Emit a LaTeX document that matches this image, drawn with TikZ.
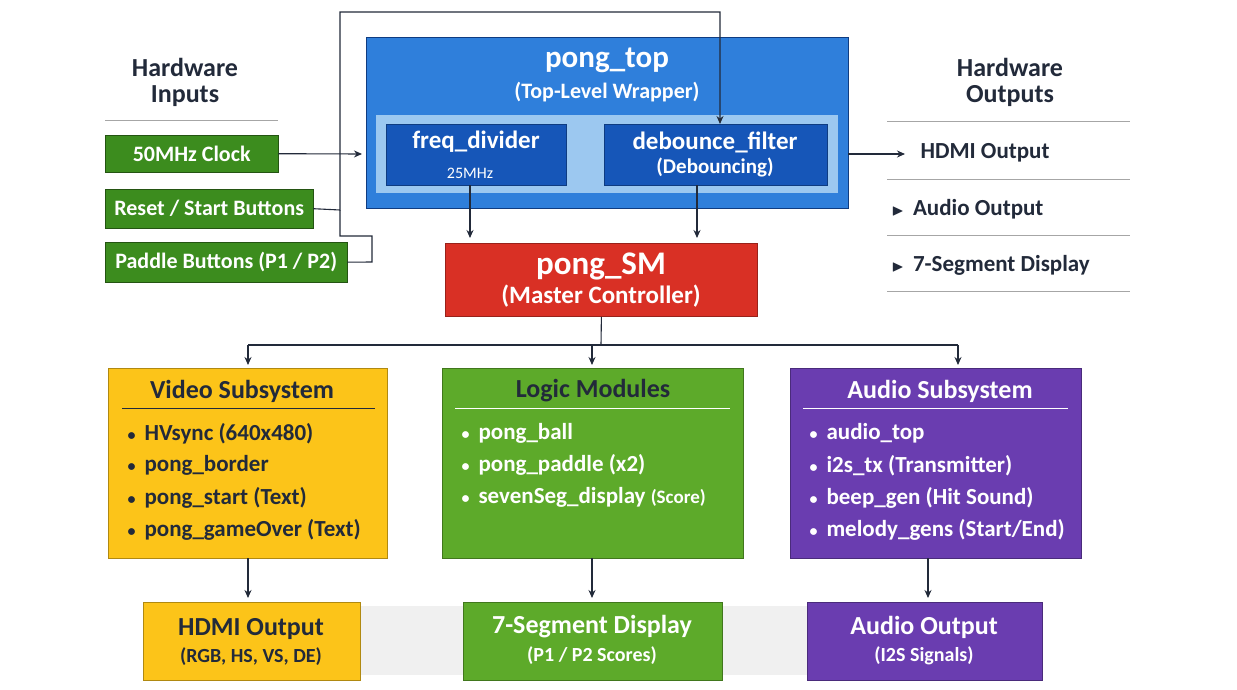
\documentclass[tikz,border=0pt]{standalone}
\usepackage{amssymb}
\usepackage{fontspec}
\setmainfont{Carlito}
\usetikzlibrary{arrows.meta}
\definecolor{blueA}{HTML}{2F7FDB}
\definecolor{blueB}{HTML}{1656B8}
\definecolor{blueL}{HTML}{9CC8F0}
\definecolor{grn}{HTML}{3C8C1E}
\definecolor{grnL}{HTML}{5DAA2A}
\definecolor{redA}{HTML}{D93025}
\definecolor{yel}{HTML}{FCC419}
\definecolor{pur}{HTML}{6A3DB0}
\definecolor{txt}{HTML}{222A3A}
\begin{document}
\begin{tikzpicture}[x=1pt,y=-1pt,
  box/.style={draw=#1!70!black,line width=0.8pt,anchor=north west,inner sep=0pt},
  inbtn/.style={fill=grn,draw=grn!60!black,anchor=north west,inner sep=0pt,text=white,font=\bfseries\fontsize{22}{24}\selectfont},
  ar/.style={-{Stealth[length=8pt,width=7pt]},line width=1.1pt,color=txt},
  ln/.style={line width=1.1pt,color=txt},
  hdr/.style={font=\bfseries\fontsize{26}{24}\selectfont,text=txt,align=center},
  bul/.style={anchor=west,font=\bfseries\fontsize{23}{24}\selectfont},
  sep/.style={line width=0.8pt,color=gray!70}]
\useasboundingbox (0,0) rectangle (1237,690);
\fill[white] (0,0) rectangle (1237,690);
% headers
\node[hdr] (hin) at (185,82) {Hardware\\[2pt]Inputs};
\draw[sep] (105,120) -- (278,120);
\node[hdr] (hout) at (1010,82) {Hardware\\[2pt]Outputs};
\foreach \y in {121,179,235,291} \draw[sep] (887,\y) -- (1130,\y);
% inputs
\node[inbtn,minimum width=173pt,minimum height=37pt] (clk) at (105,135) {50MHz Clock};
\node[inbtn,minimum width=208pt,minimum height=39pt] (rst) at (105,189) {Reset / Start Buttons};
\node[inbtn,minimum width=242pt,minimum height=40pt] (pad) at (105,242) {Paddle Buttons (P1 / P2)};
% pong_top
\node[box=blueB,fill=blueA,minimum width=482pt,minimum height=171pt] (top) at (366,37) {};
\node[text=white,font=\bfseries\fontsize{31}{32}\selectfont] (toptitle) at (607,60) {pong\_top};
\node[text=white,font=\bfseries\fontsize{22}{24}\selectfont] (topsub) at (607,92) {(Top-Level Wrapper)};
\node[fill=blueL,anchor=north west,minimum width=462pt,minimum height=78pt,inner sep=0pt] (band) at (376,115) {};
\node[box=blueB,fill=blueB,minimum width=180pt,minimum height=61pt] (fd) at (386,124) {};
\node[text=white,font=\bfseries\fontsize{25}{26}\selectfont] at (476,142) {freq\_divider};
\node[text=white,font=\fontsize{16}{17}\selectfont] at (470,173) {25MHz};
\node[box=blueB,fill=blueB,minimum width=223pt,minimum height=61pt] (db) at (604,124) {};
\node[text=white,font=\bfseries\fontsize{25}{26}\selectfont] at (715,142) {debounce\_filter};
\node[text=white,font=\bfseries\fontsize{21}{22}\selectfont] at (715,167) {(Debouncing)};
% pong_SM
\node[box=redA,fill=redA,minimum width=312pt,minimum height=73pt] (sm) at (445,243) {};
\node[text=white,font=\bfseries\fontsize{33}{34}\selectfont] at (601,266) {pong\_SM};
\node[text=white,font=\bfseries\fontsize{25}{26}\selectfont] at (601,296) {(Master Controller)};
% input connectors
\draw[ar] (clk.east) -- (362,154);
\draw[ar] (rst.east) -- (340,210) -- (340,12) -- (720,12) -- (720,124);
\draw[ln] (pad.east) -- (372,262) -- (372,236) -- (340,236) -- (340,210);
\draw[ar] (470,185) -- (470,238);
\draw[ar] (697,185) -- (697,238);
% outputs list
\draw[ar] (848,154) -- (905,154);
\node[bul,text=txt] (o1) at (917,153) {HDMI Output};
\node[bul,text=txt] (o2) at (888,209) {{\fontsize{16}{16}\selectfont$\blacktriangleright$}\ \,Audio Output};
\node[bul,text=txt] (o3) at (888,265) {{\fontsize{16}{16}\selectfont$\blacktriangleright$}\ \,7-Segment Display};
% subsystem boxes
\node[box=yel,fill=yel,minimum width=279pt,minimum height=190pt] (vid) at (108,368) {};
\node[box=grnL,fill=grnL,minimum width=301pt,minimum height=190pt] (log) at (442,368) {};
\node[box=pur,fill=pur,minimum width=291pt,minimum height=190pt] (aud) at (790,368) {};
\node[font=\bfseries\fontsize{26}{28}\selectfont,text=txt] at (242,391) {Video Subsystem};
\draw[line width=0.8pt,txt] (122,408) -- (375,408);
\node[font=\bfseries\fontsize{26}{28}\selectfont,text=txt] at (593,391) {Logic Modules};
\draw[line width=0.8pt,white] (455,408) -- (730,408);
\node[font=\bfseries\fontsize{26}{28}\selectfont,text=white] at (940,391) {Audio Subsystem};
\draw[line width=0.8pt,white] (803,408) -- (1068,408);
\foreach \t [count=\i] in {HVsync (640x480),pong\_border,pong\_start (Text),pong\_gameOver (Text)}
  \node[bul,text=txt] at (124,401+32.3*\i) {{\fontsize{16}{16}\selectfont•}\, \t};
\node[bul,text=white] at (458,433) {{\fontsize{16}{16}\selectfont•}\, pong\_ball};
\node[bul,text=white] at (458,465) {{\fontsize{16}{16}\selectfont•}\, pong\_paddle (x2)};
\node[bul,text=white] at (458,497) {{\fontsize{16}{16}\selectfont•}\, sevenSeg\_display {\fontsize{19}{20}\selectfont(Score)}};
\foreach \t [count=\i] in {audio\_top,i2s\_tx (Transmitter),beep\_gen (Hit Sound),melody\_gens (Start/End)}
  \node[bul,text=white] at (806,401+32.3*\i) {{\fontsize{16}{16}\selectfont•}\, \t};
% SM to subsystems
\draw[ln] (sm.south) -- (601,345);
\draw[ln] (248,345) -- (958,345);
\draw[ar] (248,345) -- (248,365);
\draw[ar] (592,345) -- (592,365);
\draw[ar] (958,345) -- (958,365);
% bottom
\fill[gray!12] (360,606) rectangle (807,675);
\node[box=yel,fill=yel,minimum width=217pt,minimum height=78pt] (hd) at (143,602) {};
\node[box=grnL,fill=grnL,minimum width=259pt,minimum height=78pt] (seg) at (463,602) {};
\node[box=pur,fill=pur,minimum width=235pt,minimum height=78pt] (ao) at (807,602) {};
\node[font=\bfseries\fontsize{26}{28}\selectfont,text=txt] at (251,629) {HDMI Output};
\node[font=\bfseries\fontsize{20}{22}\selectfont,text=txt] at (251,657) {(RGB, HS, VS, DE)};
\node[font=\bfseries\fontsize{26}{28}\selectfont,text=white] at (592,627) {7-Segment Display};
\node[font=\bfseries\fontsize{20}{22}\selectfont,text=white] at (592,656) {(P1 / P2 Scores)};
\node[font=\bfseries\fontsize{26}{28}\selectfont,text=white] at (924,627) {Audio Output};
\node[font=\bfseries\fontsize{20}{22}\selectfont,text=white] at (924,656) {(I2S Signals)};
\draw[ar] (248,558) -- (248,598);
\draw[ar] (592,558) -- (592,598);
\draw[ar] (928,558) -- (928,598);
\end{tikzpicture}
\end{document}
